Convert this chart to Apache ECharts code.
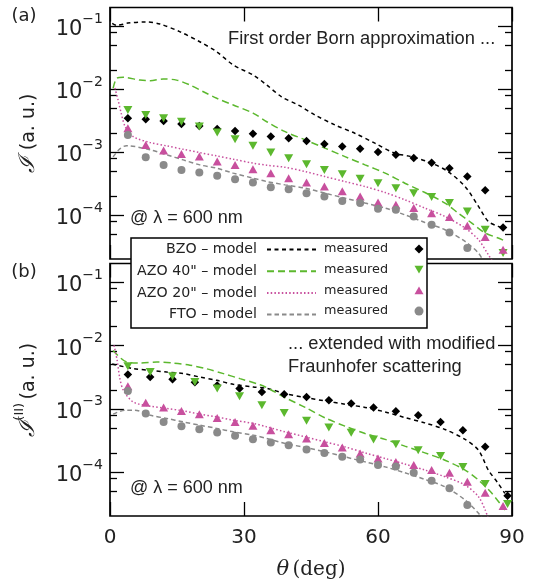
<!DOCTYPE html>
<html><head><meta charset="utf-8">
<script src="https://cdn.jsdelivr.net/npm/echarts@6/dist/echarts.min.js"></script>
<style>html,body{margin:0;padding:0;background:#fff}#c{width:535px;height:586px}</style>
</head><body><div id="c"></div>
<script>
// ---------- data ----------
const theta4 = [4,8,12,16,20,24,28,32,36,40,44,48,52,56,60,64,68,72,76,80,84,88];
const theta5 = [4,9,14,19,24,29,34,39,44,49,54,59,64,69,74,79,84,89];

// top panel, measured
const bzoMeasTop   = [3.46e-3,3.34e-3,3.13e-3,2.81e-3,2.61e-3,2.34e-3,2.18e-3,1.97e-3,1.77e-3,1.67e-3,1.51e-3,1.35e-3,1.23e-3,1.13e-3,1.01e-3,9.06e-4,8.11e-4,6.76e-4,5.56e-4,4.09e-4,2.49e-4,6.35e-5];
const azo40MeasTop = [4.69e-3,3.90e-3,3.46e-3,3.06e-3,2.55e-3,2.05e-3,1.61e-3,1.26e-3,9.84e-4,8.02e-4,6.44e-4,5.23e-4,4.47e-4,3.77e-4,3.21e-4,2.68e-4,2.23e-4,1.93e-4,1.55e-4,1.14e-4,5.84e-5,2.49e-5];
const azo20MeasTop = [2.40e-3,1.30e-3,1.06e-3,9.38e-4,8.51e-4,7.08e-4,6.28e-4,5.37e-4,4.64e-4,3.86e-4,3.29e-4,2.84e-4,2.40e-4,1.97e-4,1.58e-4,1.46e-4,1.29e-4,1.07e-4,9.29e-5,6.76e-5,4.47e-5,2.81e-5];
const ftoMeasTop   = [1.88e-3,8.32e-4,6.28e-4,5.23e-4,4.74e-4,4.20e-4,3.72e-4,3.29e-4,2.78e-4,2.58e-4,2.23e-4,1.97e-4,1.68e-4,1.55e-4,1.26e-4,1.21e-4,9.48e-5,7.00e-5,5.28e-5,2.99e-5];

// bottom panel, measured
const bzoMeasBot   = [3.48e-3,3.18e-3,2.93e-3,2.63e-3,2.33e-3,2.09e-3,1.85e-3,1.70e-3,1.54e-3,1.36e-3,1.21e-3,1.05e-3,9.14e-4,7.91e-4,6.19e-4,4.58e-4,2.49e-4,4.2e-5];
const azo40MeasBot = [4.71e-3,3.82e-3,3.27e-3,2.66e-3,2.09e-3,1.58e-3,1.14e-3,8.59e-4,6.43e-4,5.05e-4,4.15e-4,3.27e-4,2.75e-4,2.21e-4,1.78e-4,1.20e-4,6.41e-5,3.1e-5];
const azo20MeasBot = [2.27e-3,1.24e-3,1.05e-3,9.25e-4,8.20e-4,7.16e-4,6.19e-4,5.36e-4,4.58e-4,3.95e-4,3.38e-4,2.88e-4,2.44e-4,1.96e-4,1.63e-4,1.44e-4,1.28e-4,1.07e-4,9.68e-5,6.97e-5,4.67e-5,2.88e-5];
const ftoMeasBot   = [1.91e-3,8.41e-4,6.19e-4,5.30e-4,4.75e-4,4.21e-4,3.72e-4,3.30e-4,2.92e-4,2.65e-4,2.27e-4,2.00e-4,1.73e-4,1.57e-4,1.28e-4,1.22e-4,9.68e-5,7.23e-5,5.48e-5,2.99e-5];

// model curves: [theta, value]
const bzoModelTop = [[0.5,0.112],[1.5,0.104],[4,0.113],[8,0.118],[11.2,0.109],[15.7,0.082],[20.1,0.057],[23.9,0.0395],[27.6,0.0243],[32.1,0.0168],[35.1,0.0117],[38.4,0.0076],[42.2,0.0056],[45.9,0.0039],[50.4,0.0027],[54.8,0.0020],[59.3,0.00139],[63.8,0.00096],[67.5,0.00085],[72,0.00067],[75.7,0.00049],[79.5,0.000284],[82.5,0.000137],[84.7,0.000079],[86.9,0.000066],[88,0.000062]];
const azo40ModelTop = [[0.7,0.0104],[1.5,0.0149],[3,0.0155],[6.7,0.0140],[9,0.0137],[11.9,0.0146],[14.9,0.0140],[17.9,0.0117],[20.9,0.00915],[23.9,0.00719],[27.6,0.00563],[32.1,0.00415],[35.1,0.00305],[39.2,0.00212],[43.7,0.00157],[48.1,0.00116],[52.6,0.000851],[57.1,0.000628],[61.6,0.000464],[66,0.000321],[70.5,0.000228],[75,0.000155],[78,0.000107],[81,0.0000745],[84,0.0000518],[86.9,0.0000431],[88,0.000040]];
const azo20ModelTop = [[1.1,0.0105],[1.8,0.0068],[2.5,0.0042],[3.4,0.00255],[5.2,0.00177],[9,0.00142],[12.7,0.00126],[16.4,0.00111],[20.1,0.000984],[23.9,0.000872],[27.6,0.000773],[32.1,0.000668],[35.1,0.000620],[39.2,0.000575],[43.7,0.000492],[48.1,0.000409],[52.6,0.000341],[57.1,0.000284],[61.6,0.000228],[66,0.000175],[70.5,0.000129],[75,0.0000948],[79.5,0.0000621],[82.5,0.0000405],[84.7,0.0000234],[85.5,0.000019]];
const ftoModelTop = [[0.7,0.00084],[2.2,0.00113],[3.7,0.00127],[9,0.00109],[12.7,0.000906],[16.4,0.000754],[20.1,0.000628],[23.9,0.000556],[27.6,0.000464],[32.1,0.000386],[35.1,0.000341],[39.2,0.000302],[43.7,0.000268],[48.1,0.000223],[52.6,0.000186],[57.1,0.000155],[61.6,0.000129],[66,0.000101],[70.5,0.0000762],[75,0.0000584],[79.5,0.000038],[82.5,0.0000249],[83.5,0.000019]];

const bzoModelBot = [[0.5,0.0051],[5.2,0.00433],[9,0.00407],[12.7,0.00382],[16.4,0.00361],[20.1,0.00318],[23.9,0.00282],[27.6,0.00244],[32.1,0.00221],[35.1,0.00211],[39.2,0.00174],[43.7,0.00151],[48.1,0.00133],[52.6,0.00118],[57.1,0.00105],[61.6,0.000891],[66,0.000726],[70.5,0.000597],[75,0.00047],[79.5,0.000327],[82.5,0.000221],[84.7,0.000107],[86.9,0.0000658],[88.4,0.0000457]];
const azo40ModelBot = [[0.7,0.0084],[3.7,0.0055],[6.7,0.0053],[10.5,0.0055],[14.2,0.0053],[17.9,0.0049],[21.6,0.0043],[25.4,0.0036],[29.1,0.0030],[33.6,0.0024],[36,0.0020],[39.2,0.0015],[43.7,0.00105],[48.1,0.00072],[52.6,0.000530],[57.1,0.000406],[61.6,0.000327],[66,0.000256],[70.5,0.0002],[75,0.000153],[79.5,0.000107],[82.5,0.0000741],[85.5,0.0000457],[88.4,0.0000249]];
const azo20ModelBot = [[0.9,0.0101],[1.6,0.00585],[2.2,0.00304],[3,0.00196],[5.2,0.00128],[9,0.0011],[12.7,0.00101],[16.4,0.000925],[20.1,0.00082],[23.9,0.000743],[27.6,0.000659],[32.1,0.000585],[35.1,0.000516],[39.2,0.000431],[43.7,0.000359],[48.1,0.000299],[52.6,0.000249],[57.1,0.0002],[61.6,0.000163],[66,0.000133],[70.5,0.000107],[75,0.0000836],[79.5,0.0000618],[82.5,0.0000404],[84,0.0000249],[84.6,0.000019]];
const ftoModelBot = [[0.7,0.00082],[3.4,0.00095],[5.6,0.00095],[9,0.000791],[12.7,0.000702],[16.4,0.000619],[20.1,0.000549],[23.9,0.000488],[27.6,0.000431],[32.1,0.000382],[35.1,0.000338],[39.2,0.000282],[43.7,0.000244],[48.1,0.000208],[52.6,0.000173],[57.1,0.000144],[61.6,0.00012],[66,0.0000968],[70.5,0.000076],[75,0.0000581],[79.5,0.0000358],[82.5,0.0000221],[83.2,0.000019]];

const xTicks = [0, 30, 60, 90];
const yMajor = [1e-4, 1e-3, 1e-2, 1e-1];
const yMinor = [5e-5, 8e-5, 2e-4, 5e-4, 8e-4, 2e-3, 5e-3, 8e-3, 2e-2, 5e-2, 8e-2];
const yMin = 2e-5, yMax = 0.2;

const names = {
  bzo: 'BZO – model', azo40: 'AZO 40" – model', azo20: 'AZO 20" – model', fto: 'FTO – model'
};
const mnames = {
  bzo: 'BZO measured', azo40: 'AZO 40" measured', azo20: 'AZO 20" measured', fto: 'FTO measured'
};

// ---------- styles ----------
const C = { bzo: '#000000', azo40: '#5cb82e', azo20: '#c8509e', fto: '#8a8a8a' };
const DASH = { bzo: [4, 3.5], azo40: [7, 4], azo20: [1.5, 2.2], fto: [4.5, 3] };
const SYM = {
  bzo: 'path://M5,0 L10,5 L5,10 L0,5 Z',
  azo40: 'path://M0,0 L10,0 L5,8.66 Z',
  azo20: 'path://M5,0 L10,8.66 L0,8.66 Z',
  fto: 'circle'
};
const SYMSIZE = { bzo: 8.5, azo40: [9, 8], azo20: [9, 8], fto: 8 };

const zip = (xs, ys) => ys.map((v, i) => [xs[i], v]);

const grids = [
  { left: 110, top: 7.5, width: 402, height: 251.5 },
  { left: 110, top: 263.5, width: 402, height: 252.5 }
];

const txt = '#222';
const xAxes = [], yAxes = [];
[0, 1].forEach(g => {
  ['bottom', 'top'].forEach(pos => {
    const labelled = (g === 1 && pos === 'bottom');
    xAxes.push({
      type: 'value', gridIndex: g, position: pos, min: 0, max: 90, interval: 30,
      axisLine: { show: false }, splitLine: { show: false },
      axisTick: { show: true, inside: true, length: 14, lineStyle: { color: '#000', width: 1.3 } },
      axisLabel: { show: labelled, margin: 12, fontFamily: 'DejaVu Sans', fontSize: 20, color: txt, showMinLabel: true, showMaxLabel: true },
      name: labelled ? '{t|θ} {n|(deg)}' : '',
      nameLocation: 'middle', nameGap: 43, nameMoveOverlap: false,
      nameTextStyle: { rich: {
        t: { fontFamily: 'DejaVu Serif', fontStyle: 'italic', fontSize: 21, color: txt },
        n: { fontFamily: 'DejaVu Serif', fontSize: 20, color: txt }
      } }
    });
  });
  ['left', 'right'].forEach(pos => {
    const labelled = pos === 'left';
    // major ticks (+ labels)
    yAxes.push({
      type: 'log', gridIndex: g, position: pos, min: yMin, max: yMax,
      axisLine: { show: false }, splitLine: { show: false },
      axisTick: { show: true, inside: true, length: 14, customValues: yMajor, lineStyle: { color: '#000', width: 1.3 } },
      axisLabel: {
        show: labelled, customValues: yMajor, inside: true, margin: -7, align: 'right',
        formatter: v => '{b|10}{s|−' + Math.abs(Math.round(Math.log10(v))) + '}',
        rich: {
          b: { fontFamily: 'DejaVu Sans', fontSize: 21, color: txt, lineHeight: 28, verticalAlign: 'bottom' },
          s: { fontFamily: 'DejaVu Sans', fontSize: 14, color: txt, lineHeight: 14, verticalAlign: 'top' }
        }
      },
      name: labelled ? (g === 0 ? '{i|ℐ}  {n|(a. u.)}' : '{i|ℐ}{s|(II)} {n|(a. u.)}') : '',
      nameLocation: 'middle', nameGap: 71, nameMoveOverlap: false,
      nameTextStyle: { rich: {
        i: { fontFamily: 'DejaVu Serif', fontStyle: 'italic', fontSize: 22, color: txt, lineHeight: 26, verticalAlign: 'bottom' },
        s: { fontFamily: 'DejaVu Sans', fontSize: 13, color: txt, lineHeight: 13, verticalAlign: 'top' },
        n: { fontFamily: 'DejaVu Sans', fontSize: 19, color: txt, lineHeight: 26, verticalAlign: 'bottom' }
      } }
    });
    // minor ticks
    yAxes.push({
      type: 'log', gridIndex: g, position: pos, min: yMin, max: yMax,
      axisLine: { show: false }, splitLine: { show: false },
      axisTick: { show: true, inside: true, length: 7, customValues: yMinor, lineStyle: { color: '#000', width: 1.3 } },
      axisLabel: { show: false }
    });
  });
});

function modelSeries(key, data, g) {
  return {
    type: 'line', name: names[key], xAxisIndex: g * 2, yAxisIndex: g * 4,
    data: data, symbol: 'none', smooth: 0.3, z: 2,
    lineStyle: { color: C[key], width: 1.5, type: DASH[key] },
    itemStyle: { color: C[key] }, silent: true, animation: false
  };
}
function measSeries(key, xs, ys, g) {
  return {
    type: 'scatter', name: mnames[key], xAxisIndex: g * 2, yAxisIndex: g * 4,
    data: zip(xs, ys), symbol: SYM[key], symbolSize: SYMSIZE[key], z: 3,
    itemStyle: { color: C[key], opacity: 1 }, silent: true, animation: false
  };
}

const series = [
  modelSeries('bzo', bzoModelTop, 0), modelSeries('azo40', azo40ModelTop, 0),
  modelSeries('azo20', azo20ModelTop, 0), modelSeries('fto', ftoModelTop, 0),
  measSeries('bzo', theta4, bzoMeasTop, 0), measSeries('azo40', theta4, azo40MeasTop, 0),
  measSeries('azo20', theta4, azo20MeasTop, 0), measSeries('fto', theta4, ftoMeasTop, 0),
  modelSeries('bzo', bzoModelBot, 1), modelSeries('azo40', azo40ModelBot, 1),
  modelSeries('azo20', azo20ModelBot, 1), modelSeries('fto', ftoModelBot, 1),
  measSeries('bzo', theta5, bzoMeasBot, 1), measSeries('azo40', theta5, azo40MeasBot, 1),
  measSeries('azo20', theta4, azo20MeasBot, 1), measSeries('fto', theta4, ftoMeasBot, 1)
];

const option = {
  animation: false,
  backgroundColor: '#fff',
  grid: grids.map(g => Object.assign({ show: true, borderColor: '#000', borderWidth: 1.7, backgroundColor: 'transparent' }, g)),
  xAxis: xAxes,
  yAxis: yAxes,
  legend: [
    {
      orient: 'vertical', align: 'right', right: 218, top: 242.5, padding: 0,
      itemWidth: 49, itemHeight: 14, itemGap: 7.7, selectedMode: false, z: 11,
      itemStyle: { color: 'rgba(0,0,0,0)', opacity: 0, borderWidth: 0 },
      data: [names.bzo, names.azo40, names.azo20, names.fto],
      textStyle: { fontFamily: 'DejaVu Sans', fontSize: 14.2, color: txt, padding: [0, 5, 0, 0] }
    },
    {
      orient: 'vertical', align: 'right', right: 111.5, top: 242.5, padding: 0,
      itemWidth: 9, itemHeight: 14, itemGap: 7.7, selectedMode: false, z: 11,
      data: [mnames.bzo, mnames.azo40, mnames.azo20, mnames.fto],
      formatter: () => 'measured',
      textStyle: { fontFamily: 'DejaVu Sans', fontSize: 12.8, color: txt, padding: [0, 21.5, 0, 0] }
    }
  ],
  graphic: [
    { type: 'rect', z: 10, shape: { x: 131, y: 238, width: 296, height: 90 },
      style: { fill: '#fff', stroke: '#000', lineWidth: 1.5 } },
    { type: 'text', z: 12, x: 24, y: 16, style: { text: '(a)', font: '18px "DejaVu Sans"', fill: txt, align: 'center', verticalAlign: 'middle' } },
    { type: 'text', z: 12, x: 24, y: 272, style: { text: '(b)', font: '18px "DejaVu Sans"', fill: txt, align: 'center', verticalAlign: 'middle' } },
    { type: 'text', z: 12, x: 228, y: 39, style: { text: 'First order Born approximation ...', font: '18.3px "Liberation Sans"', fill: txt, verticalAlign: 'middle' } },
    { type: 'text', z: 12, x: 130, y: 218, style: { text: '@ λ = 600 nm', font: '18px "Liberation Sans"', fill: txt, verticalAlign: 'middle' } },
    { type: 'text', z: 12, x: 130, y: 488, style: { text: '@ λ = 600 nm', font: '18px "Liberation Sans"', fill: txt, verticalAlign: 'middle' } },
    { type: 'text', z: 12, x: 288, y: 344, style: { text: '... extended with modified', font: '18.3px "Liberation Sans"', fill: txt, verticalAlign: 'middle' } },
    { type: 'text', z: 12, x: 288, y: 367, style: { text: 'Fraunhofer scattering', font: '18.3px "Liberation Sans"', fill: txt, verticalAlign: 'middle' } }
  ],
  series: series
};

const chart = echarts.init(document.getElementById('c'), null, { renderer: 'canvas' });
chart.setOption(option);
</script>
</body></html>
